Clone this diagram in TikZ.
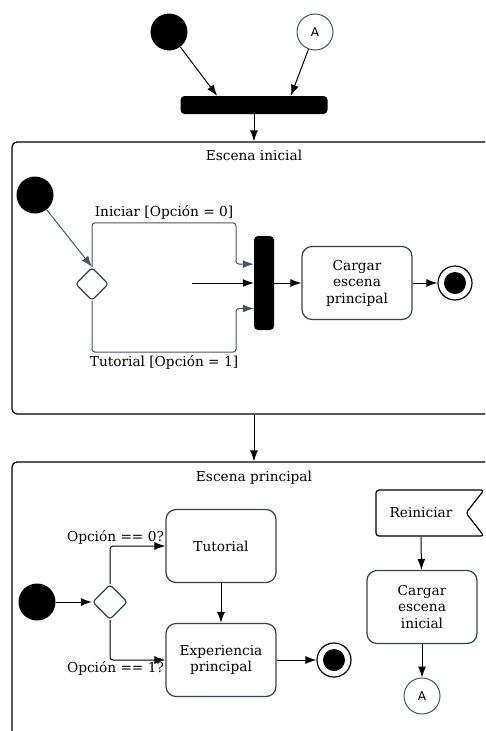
\documentclass[tikz,border=0pt]{standalone}
\usepackage{fontspec}
\setmainfont{DejaVu Serif}
\newfontfamily\sinserif{DejaVu Sans}
\usepackage{tikz}
\usetikzlibrary{arrows.meta,positioning,shapes.geometric,shapes.symbols,calc}
\definecolor{gris}{HTML}{4A5562}
\definecolor{borde}{HTML}{39424C}
\tikzstyle{inicio}=[circle, fill=black, minimum size=37pt, inner sep=0pt]
\tikzstyle{fin}=[circle, draw=black, line width=1.2pt, minimum size=34pt, inner sep=0pt,
path picture={\fill[black] (path picture bounding box.center) circle (11pt);}]
\tikzstyle{conector}=[circle, draw=gris, line width=1pt, fill=white, minimum size=36pt,
inner sep=0pt, font=\sinserif\fontsize{12}{14}\selectfont]
\tikzstyle{barra}=[fill=black, rounded corners=4pt, inner sep=0pt]
\tikzstyle{accion}=[draw=borde, line width=1.2pt, rounded corners=10pt, align=center,
inner sep=2pt, minimum width=110pt, minimum height=73pt]
\tikzstyle{decision}=[diamond, draw=borde, line width=1.2pt, rounded corners=3pt,
minimum size=33pt, inner sep=0pt, aspect=1]
\tikzstyle{escena}=[draw=black, line width=1.2pt, rounded corners=5pt, minimum width=484pt]
\tikzstyle{evento}=[signal, signal from=east, signal to=nowhere, signal pointer angle=104,
draw=black, line width=1.2pt, rounded corners=3pt, minimum width=108pt, minimum height=46pt]
\tikzstyle{titulo}=[inner sep=2pt]
\tikzstyle{flecha}=[draw, line width=1pt, -{Latex[length=11pt,width=8pt]}]
\tikzstyle{rama}=[flecha, color=gris, rounded corners=3pt]
\newcommand{\accion}[2]{node (p#1)[accion]{#2}}
\newcommand{\barra}[4]{node (b#1)[barra, minimum width=#2, minimum height=#3]{#4}}

\begin{document}
\begin{tikzpicture}[x=1pt,y=-1pt,font=\fontsize{13.7}{16.5}\selectfont]
	\useasboundingbox (0,0) rectangle (485,731);
	\clip (0,0) rectangle (485,731);

	% Inicio general
	\node (ini0)[inicio] at (169,32) {};
	\node (conA0)[conector] at (315,32) {A};
	\path (254,105) \barra{0}{147pt}{18pt}{};

	% Escena inicial
	\node (esc1)[escena, minimum height=272pt] at (254,278) {};
	\node (t1)[titulo, below=6pt of esc1.north] {Escena inicial};
	\node (ini1)[inicio] at (35,195) {};
	\node (dec1)[decision] at (92,284) {};
	\path (264,283) \barra{1}{20pt}{94pt}{};
	\coordinate (e1) at (192,283);
	\path[minimum height=77pt] (357,283) \accion{1}{Cargar\\escena\\principal};
	\node (fin1)[fin] at (455,283) {};

	% Escena principal
	\node (esc2)[escena, minimum height=308pt] at (254,616) {};
	\node (t2)[titulo, below=7pt of esc2.north] {Escena principal};
	\node (ini2)[inicio] at (37,602) {};
	\node (dec2)[decision, minimum size=35pt] at (110,602) {};
	\path (221,546) \accion{2}{Tutorial};
	\path (221,660) \accion{3}{Experiencia\\principal};
	\node (fin2)[fin] at (334,660) {};
	\node (ev1)[evento] at (421,513) {Reiniciar\hspace{10pt}};
	\path[minimum width=98pt, minimum height=72pt] (422,607) \accion{4}{Cargar\\escena\\inicial};
	\node (conA1)[conector] at (422,696) {A};

	% Flechas
	\draw[flecha] (ini0) -- ($(b0.north west)!0.25!(b0.north east)$);
	\draw[flecha] (conA0) -- ($(b0.north west)!0.75!(b0.north east)$);
	\draw[flecha] (b0.south) -- (esc1.north);
	\draw[flecha] (esc1.south) -- (esc2.north);

	\draw[rama] (ini1) -- (dec1.north);
	\draw[rama] (dec1.north) |- ++(144,-44)
		node[pos=0.75, above, text=black] {Iniciar [Opción = 0]}
		|- ($(b1.north west)!0.3!(b1.south west)$);
	\draw[rama] (dec1.south) |- ++(144,51)
		node[pos=0.75, below, text=black] {Tutorial [Opción = 1]}
		|- ($(b1.north west)!0.77!(b1.south west)$);
	\draw[flecha] (e1) -- (b1.west);
	\draw[flecha] (b1.east) -- (p1);
	\draw[flecha] (p1) -- (fin1);

	\draw[flecha] (ini2) -- (dec2);
	\draw[flecha, rounded corners=3pt] (dec2.north) |- (p2.west)
		node[pos=1, above left, inner sep=1pt] {Opción == 0?};
	\draw[flecha, rounded corners=3pt] (dec2.south) |- (p3.west)
		node[pos=1, below left, inner sep=1pt] {Opción == 1?};
	\draw[flecha] (p2) -- (p3);
	\draw[flecha] (p3) -- (fin2);
	\draw[flecha] (ev1.south) -- (p4);
	\draw[flecha] (p4) -- (conA1);
\end{tikzpicture}
\end{document}
